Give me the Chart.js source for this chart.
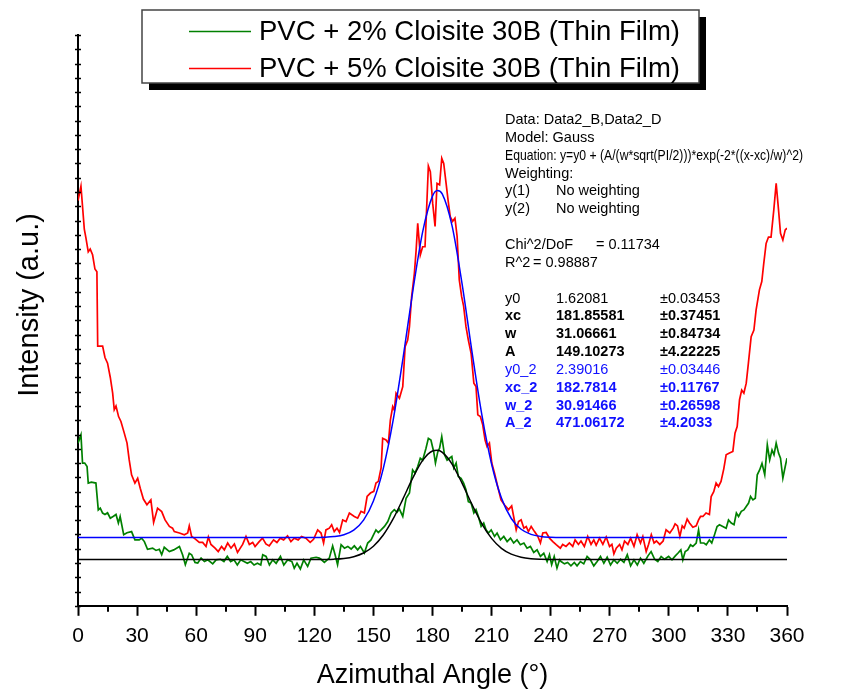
<!DOCTYPE html>
<html lang="en">
<head>
    <meta charset="UTF-8">
    <title>Azimuthal Angle vs Intensity</title>
    <script src="https://cdn.jsdelivr.net/npm/chart.js"></script>
    <style>
        body {
            margin: 0;
            background: #fff;
        }
        #wrap {
            width: 862px;
            height: 689px;
        }
    </style>
</head>
<body>
    <div id="wrap"><canvas id="myChart" width="862" height="689"></canvas></div>

    <script>
        // Serie verde: PVC + 2% Cloisite 30B
        const greenAngle = [0, 1.5, 2.3, 3.4, 4.6, 5.2, 6.8, 9.1, 10.3, 11.3, 12.5, 13.7, 15, 16.4, 18, 19.3, 20.5, 21.4, 23.2, 24.9,
            27.2, 28.9, 31.1, 32.3, 33.7, 35.3, 37.9, 39.6, 41.3, 42.5, 43.8, 46.4, 48.6, 51.5, 53.1, 54.5, 56.5, 57.7, 59.4, 60.8,
            62.5, 64.2, 65.9, 68.4, 70.1, 72.4, 74.1, 75.8, 77.5, 79.2, 80.9, 82.6, 84.3, 86, 87.7, 89.4, 91.1, 92.8, 93.8, 95.5,
            97.2, 98.9, 100.6, 102.8, 104.5, 106.5, 108.6, 109.8, 111.2, 112.9, 114.6, 116.6, 118.3, 120.9, 122.5, 123.4, 125.1, 127.6, 129.3, 130.5,
            131.8, 133.6, 135.3, 137, 138.7, 140.3, 142, 143.4, 145.4, 147.1, 148.8, 150.1, 151.3, 152.5, 153.9, 155.6, 157.3, 159, 160.6, 162,
            163.2, 164.9, 166.6, 168.3, 169.9, 171.1, 172.5, 173.8, 175, 176.7, 177.9, 179.2, 180.6, 181.5, 182.7, 183.6, 184.7, 186.1, 187.4, 188.6,
            189.8, 190.8, 192, 193.1, 194.5, 195.8, 197, 198.2, 199.6, 201, 202.1, 203.3, 204.7, 206, 207.2, 208.4, 209.8, 211.5, 212.8, 214.5,
            216.2, 217.9, 219.6, 221.2, 222.9, 224.6, 226.4, 228, 229.7, 231.4, 233.1, 234.8, 236.5, 238.2, 239.4, 240.5, 241.8, 243.2, 244.5, 245.3,
            247, 248.6, 250.3, 252, 253.4, 255.1, 256.8, 258.5, 260.2, 261.9, 263.6, 265.3, 267, 268.7, 270.4, 272.1, 273.8, 275.5, 277.2, 278.9,
            280.6, 282.3, 284, 285.6, 287.3, 289.4, 291, 292.8, 294.4, 296.1, 297.8, 299.9, 301.6, 303.3, 304.7, 306.1, 307.1, 308.3, 309.6, 311,
            312.2, 313.9, 315.1, 316.1, 317.8, 319, 320.6, 321.8, 323.2, 324.5, 325.7, 327.4, 329.1, 330.3, 331.7, 333.1, 334.3, 335.4, 336.8, 338.1,
            339.3, 340.5, 341.5, 342.7, 343.9, 344.9, 346.1, 347.3, 348.7, 350, 351.2, 352.4, 353.4, 354.5, 355.7, 356.7, 357.9, 359.1, 360];
        const greenIntensity = [5.7, 5.99, 5.0, 5.0, 4.88, 4.3, 4.33, 4.3, 3.36, 3.42, 3.25, 3.2, 3.26, 3.07, 3.14, 3.2, 2.9, 3.13, 2.49, 2.56,
            2.6, 2.31, 2.31, 2.37, 2.25, 1.98, 2.02, 1.94, 1.98, 1.79, 2.05, 1.9, 1.96, 2.08, 1.79, 1.44, 1.84, 1.79, 1.52, 1.5,
            1.67, 1.55, 1.61, 1.47, 1.61, 1.63, 1.55, 1.73, 1.55, 1.61, 1.43, 1.61, 1.55, 1.49, 1.55, 1.43, 1.49, 1.43, 1.79, 1.73,
            1.43, 1.61, 1.49, 1.73, 1.43, 1.61, 1.55, 1.32, 1.49, 1.29, 1.61, 1.38, 1.67, 1.7, 1.67, 1.63, 1.52, 1.67, 2.1, 1.8,
            1.44, 2.14, 2.02, 2.08, 1.99, 2.1, 1.96, 2.08, 1.85, 2.2, 2.31, 2.49, 2.66, 2.57, 2.66, 2.78, 2.95, 3.25, 3.37, 3.28,
            3.39, 3.13, 3.77, 3.95, 4.76, 4.65, 4.88, 5.17, 5.1, 5.52, 5.87, 5.81, 5.4, 5.0, 5.4, 5.52, 5.93, 5.29, 5.1, 5.17,
            5.23, 4.83, 5.0, 4.53, 4.47, 4.3, 4.07, 3.65, 3.6, 3.25, 3.37, 3.13, 2.78, 2.9, 2.66, 2.55, 2.66, 2.43, 2.55, 2.31,
            2.43, 2.25, 2.37, 2.2, 2.31, 2.14, 2.2, 2.02, 2.08, 1.87, 1.96, 1.73, 1.84, 1.55, 1.79, 1.44, 1.73, 1.32, 1.61, 1.55,
            1.47, 1.52, 1.4, 1.52, 1.4, 1.55, 1.47, 1.73, 1.61, 1.4, 1.55, 1.73, 1.49, 1.7, 1.43, 1.61, 1.49, 1.63, 1.52, 1.79,
            1.4, 1.61, 1.43, 1.67, 1.49, 1.75, 1.9, 1.63, 1.55, 1.73, 1.63, 1.73, 1.61, 1.75, 1.85, 1.96, 1.61, 1.9, 1.96, 2.14,
            2.08, 2.2, 2.66, 2.2, 2.2, 2.14, 2.31, 2.2, 2.49, 2.78, 2.84, 2.78, 2.72, 3.01, 2.9, 2.84, 3.25, 3.13, 3.31, 3.36,
            3.48, 3.6, 3.83, 3.71, 3.77, 4.59, 4.76, 4.99, 4.59, 5.64, 5.11, 5.46, 5.29, 5.7, 5.35, 5.17, 4.47, 4.88, 5.17];

        // Serie roja: PVC + 5% Cloisite 30B
        const redAngle = [0, 1.5, 3.2, 4, 5.2, 6.2, 7.4, 8.6, 9.6, 10, 12.5, 13.7, 15, 16.4, 17.6, 18.4, 19.3, 20.6, 21.8, 23.5,
            24.9, 26, 27.2, 28.9, 30.3, 31.6, 33.2, 35, 37, 38.4, 40.4, 42.5, 44.2, 46.4, 48, 48.9, 51.5, 54, 55.7, 56.5,
            57.7, 59, 61.6, 63.3, 65, 66.2, 67.5, 69.6, 71.2, 72.9, 74.3, 76, 77.7, 79.4, 81, 83.6, 85.3, 87, 88.7, 89.9,
            92, 93.7, 95.4, 97.1, 99.3, 101, 102.7, 104.4, 106.4, 108.1, 109.8, 111.8, 113.5, 115.7, 117.9, 119.6, 121.7, 123.4, 124.7, 125.9,
            127.6, 128.8, 130.1, 131.5, 132.8, 134.4, 136.1, 137.8, 140.3, 142, 143.7, 145.4, 146.8, 148.5, 150.2, 151.3, 152.5, 153.9, 154.7, 156.4,
            157.6, 158.6, 159.8, 160.6, 161.5, 163.2, 164.9, 166.1, 167.4, 168.3, 169.4, 170.8, 171.7, 172.5, 173.8, 175, 176.2, 177.2, 177.9, 178.9,
            180.1, 181.3, 182.3, 183.6, 184.7, 185.7, 186.9, 188, 189, 190.2, 191.4, 192.5, 193.6, 194.8, 195.8, 197, 198.2, 199.6, 201, 202.1,
            203, 204.3, 205.5, 206.7, 207.7, 208.9, 210.1, 211.5, 213.1, 214.8, 216.5, 218.6, 220.2, 221.2, 222.5, 223.7, 225, 226.4, 227.6, 228.7,
            230.1, 231.8, 233.5, 234.8, 236, 237.7, 239.4, 241.1, 242.8, 244.9, 246.1, 247.8, 249.5, 251.2, 252.4, 254.1, 255.4, 257.1, 258.8, 260.5,
            261.9, 263.1, 264.8, 266.5, 268.2, 269.9, 271.1, 272.1, 273.3, 275, 276.2, 277.5, 279.2, 280.6, 282.3, 283.9, 285.6, 286.8, 288.5, 289.7,
            291.1, 292.5, 293.7, 295.4, 297.1, 298.6, 300.5, 302.2, 303.2, 304.4, 305.6, 306.8, 307.8, 309.3, 310.5, 312.2, 313.9, 315.1, 316.1, 317.3,
            318.9, 320.6, 321.5, 322.8, 324, 325.2, 326.5, 327.9, 329.1, 330.8, 332.5, 333.6, 334.7, 335.9, 337, 338.1, 339.3, 340.4, 341.8, 343.2,
            344.3, 346, 347.2, 348.2, 349.4, 350.6, 351.9, 353.3, 354.5, 355.7, 356.7, 357.9, 359.1, 360];
        const redIntensity = [14.2, 14.7, 13.2, 12.9, 12.4, 12.5, 12.3, 11.8, 11.7, 9.1, 9.1, 8.7, 8.5, 8.0, 7.45, 6.87, 7.0, 6.63, 6.46, 6.05,
            5.7, 5.11, 4.59, 4.3, 4.47, 4.12, 3.74, 3.54, 3.71, 2.92, 3.42, 3.3, 3.01, 2.78, 2.72, 2.6, 2.55, 2.49, 2.55, 2.8,
            2.43, 2.37, 2.22, 2.22, 2.08, 2.41, 2.15, 2.02, 1.9, 2.08, 1.96, 2.2, 2.02, 2.17, 1.87, 2.15, 2.43, 2.15, 2.22, 2.08,
            2.25, 2.37, 2.17, 2.1, 2.31, 2.22, 2.37, 2.31, 2.45, 2.25, 2.37, 2.31, 2.43, 2.37, 2.22, 2.33, 2.66, 2.55, 2.2, 2.66,
            2.72, 2.84, 2.6, 2.72, 2.57, 3.01, 2.95, 3.25, 3.13, 3.07, 3.31, 3.25, 3.83, 3.95, 4.01, 4.3, 4.36, 4.83, 5.87, 5.81,
            5.7, 6.51, 6.98, 6.86, 7.45, 7.27, 7.68, 9.08, 9.31, 9.78, 10.83, 11.65, 12.47, 13.4, 12.29, 12.58, 12.58, 14.22, 15.41, 15.21,
            14.1, 13.29, 14.8, 14.75, 15.68, 15.5, 14.8, 14.16, 13.64, 13.47, 13.58, 12.94, 11.42, 10.83, 10.5, 9.78, 9.31, 8.85, 7.8, 7.68,
            6.69, 6.63, 6.34, 5.81, 5.58, 5.7, 5.0, 4.65, 4.18, 3.71, 3.54, 3.37, 3.5, 3.13, 2.66, 2.95, 3.01, 2.72, 2.78, 2.6,
            2.78, 2.6, 2.43, 2.2, 2.55, 2.57, 2.37, 2.25, 2.14, 2.02, 2.15, 2.08, 2.2, 2.08, 2.31, 2.15, 2.27, 2.08, 2.43, 2.15,
            2.31, 2.12, 2.37, 2.15, 2.41, 2.08, 2.15, 1.82, 2.02, 2.15, 1.96, 2.27, 2.15, 2.37, 2.08, 2.49, 2.2, 2.43, 1.9, 2.15,
            2.49, 2.2, 2.27, 2.15, 2.27, 2.66, 2.55, 2.72, 2.87, 2.8, 2.43, 2.8, 2.72, 3.04, 2.9, 2.75, 2.8, 3.01, 3.13, 3.13,
            3.25, 3.2, 3.83, 4.0, 4.3, 4.18, 4.36, 4.8, 5.29, 5.35, 5.41, 6.05, 6.28, 7.22, 7.56, 7.45, 7.8, 8.5, 9.43, 9.66,
            10.36, 11.07, 11.36, 12.0, 12.7, 12.92, 12.92, 13.87, 14.8, 13.87, 13.05, 12.82, 13.17, 13.23];

        // Curvas de ajuste Gauss
        const fitAngle = [0, 120, 125, 130, 135, 140, 145, 150, 155, 160, 165, 170, 175, 180, 182.5, 185, 190, 195, 200, 205,
            210, 215, 220, 225, 230, 235, 240, 245, 360];
        const fitBlack = [1.621, 1.621, 1.625, 1.635, 1.661, 1.722, 1.850, 2.088, 2.479, 3.043, 3.745, 4.482, 5.094, 5.423, 5.446, 5.373, 4.958, 4.298, 3.557, 2.883,
            2.362, 2.014, 1.809, 1.702, 1.652, 1.632, 1.624, 1.621, 1.621];
        const fitBlue = [2.390, 2.393, 2.401, 2.426, 2.492, 2.654, 3.003, 3.673, 4.807, 6.494, 8.665, 11.028, 13.103, 14.355, 14.55, 14.425, 13.293, 11.286, 8.927, 6.716,
            4.968, 3.774, 3.059, 2.681, 2.504, 2.430, 2.403, 2.393, 2.390];

        const seriesNames = ['PVC + 2% Cloisite 30B (Thin Film)', 'PVC + 5% Cloisite 30B (Thin Film)'];

        // Texto del reporte de ajuste
        const fitReport = [
            { cols: ['Data: Data2_B,Data2_D'] },
            { cols: ['Model: Gauss'] },
            { cols: ['Equation: y=y0 + (A/(w*sqrt(PI/2)))*exp(-2*((x-xc)/w)^2)'], squeeze: 298 },
            { cols: ['Weighting:'] },
            { cols: ['y(1)', 'No weighting'] },
            { cols: ['y(2)', 'No weighting'] },
            null,
            { cols: ['Chi^2/DoF', '', '= 0.11734'], chi: true },
            { cols: ['R^2', '= 0.98887'], r2: true },
            null,
            { cols: ['y0', '1.62081', '\u00b10.03453'] },
            { cols: ['xc', '181.85581', '\u00b10.37451'], bold: true },
            { cols: ['w', '31.06661', '\u00b10.84734'], bold: true },
            { cols: ['A', '149.10273', '\u00b14.22225'], bold: true },
            { cols: ['y0_2', '2.39016', '\u00b10.03446'], blue: true },
            { cols: ['xc_2', '182.7814', '\u00b10.11767'], blue: true, bold: true },
            { cols: ['w_2', '30.91466', '\u00b10.26598'], blue: true, bold: true },
            { cols: ['A_2', '471.06172', '\u00b14.2033'], blue: true, bold: true }
        ];

        const FONT = "'Liberation Sans', Arial, sans-serif";

        function toPoints(xs, ys) {
            return xs.map((x, i) => ({ x: x, y: ys[i] }));
        }

        // Ticks menores en X, ticks del eje Y y titulo del eje Y
        const tickPlugin = {
            id: 'extraTicks',
            afterDraw(chart) {
                const ctx = chart.ctx;
                const xs = chart.scales.x;
                const ys = chart.scales.y;
                ctx.save();
                ctx.strokeStyle = '#000';
                ctx.lineWidth = 2;
                for (let i = 0; i < xs.ticks.length - 1; i++) {
                    const mid = (xs.ticks[i].value + xs.ticks[i + 1].value) / 2;
                    const px = Math.round(xs.getPixelForValue(mid));
                    ctx.beginPath();
                    ctx.moveTo(px, xs.top);
                    ctx.lineTo(px, xs.top + 6);
                    ctx.stroke();
                }
                ctx.lineWidth = 1.5;
                ys.ticks.forEach(t => {
                    const py = Math.round(ys.getPixelForValue(t.value)) + 0.5;
                    ctx.beginPath();
                    ctx.moveTo(ys.right - 3, py);
                    ctx.lineTo(ys.right + 3, py);
                    ctx.stroke();
                });
                // titulo Y
                ctx.translate(30, 305);
                ctx.rotate(-Math.PI / 2);
                ctx.font = '29px ' + FONT;
                ctx.fillStyle = '#000';
                ctx.textAlign = 'center';
                ctx.textBaseline = 'middle';
                ctx.fillText('Intensity (a.u.)', 0, 0);
                ctx.restore();
            }
        };

        // Leyenda con caja y sombra
        const legendPlugin = {
            id: 'boxLegend',
            afterDraw(chart) {
                const ctx = chart.ctx;
                ctx.save();
                ctx.fillStyle = '#000';
                ctx.fillRect(149, 17, 557, 73);
                ctx.fillStyle = '#fff';
                ctx.fillRect(142, 10, 557, 73);
                ctx.strokeStyle = '#444';
                ctx.lineWidth = 1.5;
                ctx.strokeRect(142, 10, 557, 73);
                const colors = [chart.data.datasets[2].borderColor, chart.data.datasets[3].borderColor];
                const rows = [31, 68];
                ctx.font = '27.5px ' + FONT;
                ctx.textBaseline = 'middle';
                ctx.fillStyle = '#000';
                seriesNames.forEach((name, i) => {
                    ctx.strokeStyle = colors[i];
                    ctx.lineWidth = 1.5;
                    ctx.beginPath();
                    ctx.moveTo(189, rows[i] + 0.5);
                    ctx.lineTo(251, rows[i] + 0.5);
                    ctx.stroke();
                    ctx.fillText(name, 259, rows[i] + 1);
                });
                ctx.restore();
            }
        };

        // Reporte de parametros del ajuste
        const reportPlugin = {
            id: 'fitReport',
            afterDraw(chart) {
                const ctx = chart.ctx;
                ctx.save();
                ctx.textBaseline = 'middle';
                fitReport.forEach((row, i) => {
                    if (!row) return;
                    const y = 120 + i * 17.85;
                    ctx.font = (row.bold ? 'bold ' : '') + '14.5px ' + FONT;
                    ctx.fillStyle = row.blue ? '#1010ff' : '#000';
                    let cols = [505, 556, 660];
                    if (row.chi) cols = [505, 556, 596];
                    if (row.r2) cols = [505, 533];
                    row.cols.forEach((txt, j) => {
                        if (!txt) return;
                        if (row.squeeze) ctx.fillText(txt, cols[j], y, row.squeeze);
                        else ctx.fillText(txt, cols[j], y);
                    });
                });
                ctx.restore();
            }
        };

        const ctx = document.getElementById('myChart').getContext('2d');
        new Chart(ctx, {
            type: 'line',
            data: {
                datasets: [
                    {
                        label: 'Fit 2%',
                        data: toPoints(fitAngle, fitBlack),
                        borderColor: '#000000',
                        borderWidth: 1.5,
                        pointRadius: 0,
                        cubicInterpolationMode: 'monotone'
                    },
                    {
                        label: 'Fit 5%',
                        data: toPoints(fitAngle, fitBlue),
                        borderColor: '#0000ff',
                        borderWidth: 1.5,
                        pointRadius: 0,
                        cubicInterpolationMode: 'monotone'
                    },
                    {
                        label: seriesNames[0],
                        data: toPoints(greenAngle, greenIntensity),
                        borderColor: '#008000',
                        borderWidth: 1.7,
                        pointRadius: 0,
                        tension: 0
                    },
                    {
                        label: seriesNames[1],
                        data: toPoints(redAngle, redIntensity),
                        borderColor: '#ff0000',
                        borderWidth: 1.7,
                        pointRadius: 0,
                        tension: 0
                    }
                ]
            },
            options: {
                responsive: false,
                animation: false,
                devicePixelRatio: 1,
                layout: {
                    padding: { top: 35, right: 75, bottom: 0, left: 78 }
                },
                plugins: {
                    legend: { display: false },
                    tooltip: { enabled: false }
                },
                scales: {
                    x: {
                        type: 'linear',
                        min: 0,
                        max: 360,
                        ticks: {
                            stepSize: 30,
                            padding: 8,
                            color: '#000',
                            font: { family: FONT, size: 21 }
                        },
                        grid: {
                            drawOnChartArea: false,
                            drawTicks: true,
                            tickLength: 10,
                            tickColor: '#000',
                            tickWidth: 2
                        },
                        border: { display: true, color: '#000', width: 2 },
                        title: {
                            display: true,
                            text: 'Azimuthal Angle (\u00b0)',
                            color: '#000',
                            font: { family: FONT, size: 27, lineHeight: 1 },
                            padding: { top: 5, bottom: 0 }
                        }
                    },
                    y: {
                        min: 0,
                        max: 20,
                        ticks: { stepSize: 0.5, display: false },
                        grid: { display: false, drawTicks: false },
                        border: { display: true, color: '#000', width: 2 },
                        title: { display: false }
                    }
                }
            },
            plugins: [tickPlugin, legendPlugin, reportPlugin]
        });
    </script>
</body>
</html>
